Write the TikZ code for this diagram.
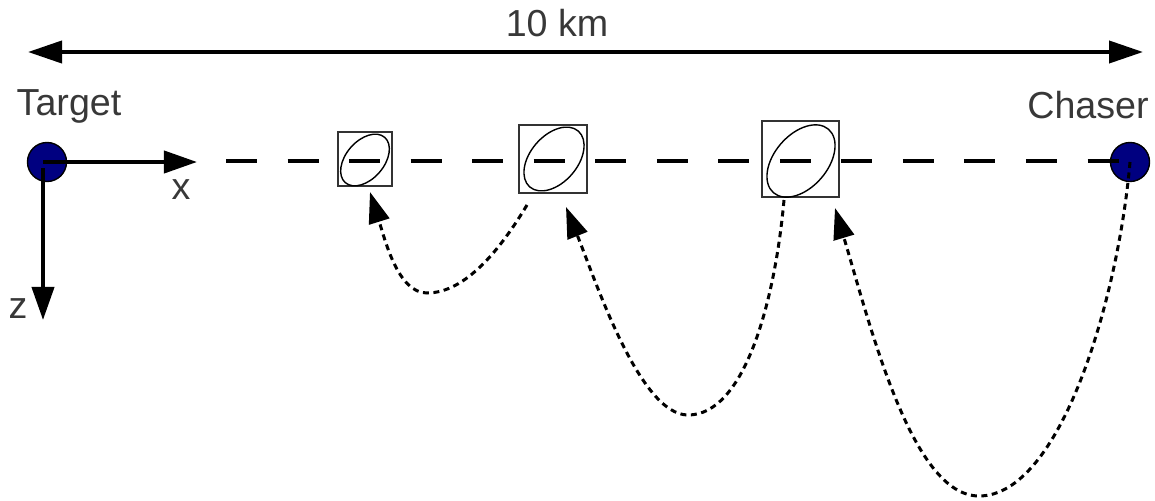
\documentclass[tikz,border=0pt]{standalone}
\usepackage{fontspec}
\setmainfont{Liberation Sans}
\usetikzlibrary{arrows.meta}
\definecolor{txt}{HTML}{383838}
\definecolor{navyfill}{HTML}{000080}
\tikzset{
  lbl/.style={text=txt, font=\fontsize{10.7}{12}\selectfont, anchor=base, inner sep=0pt},
  body/.style={circle, draw=black, line width=0.4pt, fill=navyfill, minimum size=0.39cm, inner sep=0pt},
  ellbox/.style={draw=black!80, line width=0.4pt, inner sep=0pt},
  bigarrow/.style={line width=0.04cm, -{Triangle[length=0.33cm,width=0.22cm]}},
  dashline/.style={line width=0.04cm, dash pattern=on 0.31cm off 0.305cm},
  traj/.style={line width=0.03cm, dash pattern=on 0.06cm off 0.045cm, -{Triangle[length=0.31cm,width=0.21cm]}},
  ell/.style={line width=0.4pt}
}
\begin{document}
\begin{tikzpicture}[x=0.01cm,y=-0.01cm]
\useasboundingbox (0,0) rectangle (1155,500);
% span arrow
\coordinate (spanL) at (28,52);
\coordinate (spanR) at (1143,52);
\draw[line width=0.04cm, {Triangle[length=0.34cm,width=0.22cm]}-{Triangle[length=0.34cm,width=0.22cm]}] (spanL) -- (spanR);
\node[lbl] (km) at (557,36) {10 km};
% bodies
\node[body] (target) at (47,162) {};
\node[body] (chaser) at (1130,162) {};
\node[lbl] (tlabel) at (69,115) {Target};
\node[lbl] (clabel) at (1088,118) {Chaser};
% boxes
\node[ellbox, minimum width=0.54cm, minimum height=0.54cm] (b1) at (365,159) {};
\node[ellbox, minimum width=0.68cm, minimum height=0.68cm] (b2) at (553,159) {};
\node[ellbox, minimum width=0.77cm, minimum height=0.76cm] (b3) at (800.5,159) {};
\draw[ell, rotate around={49:(365,160)}] (365,160) ellipse [x radius=30, y radius=19];
\draw[ell, rotate around={49:(554,159)}] (554,159) ellipse [x radius=37, y radius=23.5];
\draw[ell, rotate around={49:(801,161)}] (801,161) ellipse [x radius=42, y radius=26.5];
% axes
\coordinate (xtip) at (197,162);
\coordinate (ztip) at (43,320);
\draw[bigarrow] (43,162) -- (xtip);
\draw[bigarrow] (43,168) -- (ztip);
\node[lbl] (xl) at (181,199) {x};
\node[lbl] (zl) at (18,318) {z};
% dashed line of sight
\coordinate (dstart) at (226,161);
\draw[dashline] (dstart) -- (chaser.center |- dstart);
% trajectories
\coordinate (s1) at (527,205);
\coordinate (e1) at (370,192);
\coordinate (m1) at (427,293);
\draw[traj] (s1) .. controls (500,250) and (465,293) .. (m1)
  .. controls (398,293) and (385,240) .. (e1);
\coordinate (s2) at (784,200);
\coordinate (e2) at (566,207);
\coordinate (m2) at (688,415);
\draw[traj] (s2) .. controls (775,300) and (745,415) .. (m2)
  .. controls (640,415) and (596,282) .. (e2);
\coordinate (e3) at (835,208);
\coordinate (m3) at (979,496);
\draw[traj] (chaser.center) .. controls (1118,300) and (1060,496) .. (m3)
  .. controls (912,496) and (871,328) .. (e3);
\end{tikzpicture}
\end{document}
